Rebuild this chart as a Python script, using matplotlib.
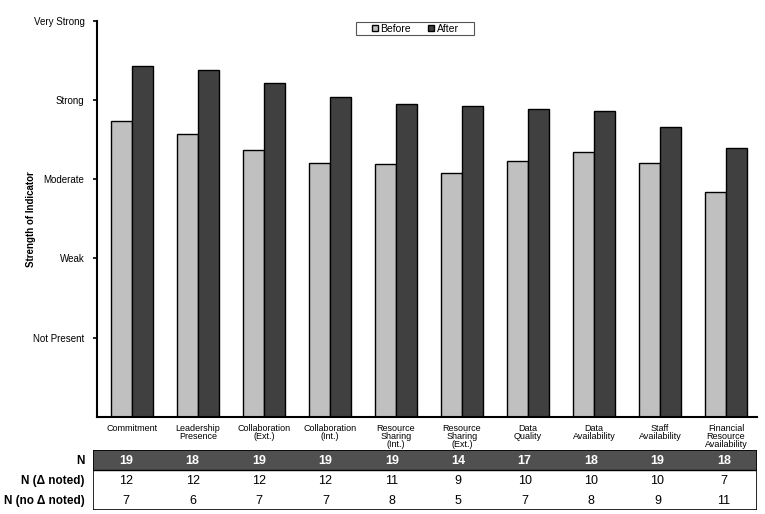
import matplotlib
matplotlib.use('Agg')
import matplotlib.pyplot as plt
from matplotlib.patches import Rectangle
import numpy as np

plt.rcParams['font.family'] = ['Liberation Sans', 'DejaVu Sans']

categories = ['Commitment', 'Leadership\nPresence', 'Collaboration\n(Ext.)',
              'Collaboration\n(Int.)', 'Resource\nSharing\n(Int.)',
              'Resource\nSharing\n(Ext.)', 'Data\nQuality', 'Data\nAvailability',
              'Staff\nAvailability', 'Financial\nResource\nAvailability']
before = [3.74, 3.57, 3.37, 3.20, 3.19, 3.08, 3.23, 3.34, 3.20, 2.84]
after = [4.43, 4.38, 4.22, 4.04, 3.95, 3.93, 3.89, 3.86, 3.66, 3.40]
level_labels = ['Not Present', 'Weak', 'Moderate', 'Strong', 'Very Strong']
n_total = [19, 18, 19, 19, 19, 14, 17, 18, 19, 18]
n_change = [12, 12, 12, 12, 11, 9, 10, 10, 10, 7]
n_no_change = [7, 6, 7, 7, 8, 5, 7, 8, 9, 11]
row_labels = ['N', 'N (Δ noted)', 'N (no Δ noted)']

W, H = 765, 514
fig = plt.figure(figsize=(W / 100, H / 100), dpi=100)
ax = fig.add_axes([97 / W, 1 - 416.7 / H, (757 - 97) / W, (416.7 - 21) / H])

x = np.arange(len(categories))
bw = 0.32
ax.bar(x - bw / 2, before, bw, color='#c0c0c0', edgecolor='black', linewidth=1, label='Before')
ax.bar(x + bw / 2, after, bw, color='#404040', edgecolor='black', linewidth=1, label='After')

ax.set_xlim(-0.53, 9.47)
ax.set_ylim(0, 5)
ax.set_yticks(range(1, 6))
ax.set_yticklabels(level_labels, fontsize=7)
ax.set_xticks(x)
ax.set_xticklabels(categories, fontsize=6.5, linespacing=0.85)
ax.tick_params(axis='x', length=0, pad=5)
ax.tick_params(axis='y', length=3, width=1.2, pad=6)
ax.spines['top'].set_visible(False)
ax.spines['right'].set_visible(False)
ax.spines['left'].set_linewidth(1.5)
ax.spines['bottom'].set_linewidth(1.5)
ax.set_ylabel('Strength of Indicator', fontsize=7, fontweight='bold')
ax.yaxis.set_label_coords(-0.092, 0.5)

# legend drawn without frame, box added by hand for the wide padding
leg = ax.legend(loc='center', bbox_to_anchor=(0.482, 0.981), ncol=2, fontsize=7.5,
                frameon=False, handlelength=0.6, handleheight=0.6,
                columnspacing=1.6, handletextpad=0.25, borderpad=0)
ax.add_patch(Rectangle((0.392, 0.9646), 0.179, 0.033, transform=ax.transAxes,
                       facecolor='none', edgecolor='#555555', linewidth=0.8,
                       clip_on=False))

# table under the chart
tx = fig.add_axes([93 / W, 1 - 510 / H, (757 - 93) / W, (510 - 449.5) / H])
tx.set_xlim(0, 10)
tx.set_ylim(3, 0)
tx.axis('off')
rows = [n_total, n_change, n_no_change]
for r, vals in enumerate(rows):
    if r == 0:
        tx.add_patch(Rectangle((0, 0), 10, 1, facecolor='#505050', edgecolor='none'))
    for c, v in enumerate(vals):
        tx.text(c + 0.5, r + 0.55, str(v), ha='center', va='center', fontsize=9,
                fontweight='bold' if r == 0 else 'normal',
                color='white' if r == 0 else 'black')
    tx.text(-0.13, r + 0.55, row_labels[r], ha='right', va='center', fontsize=8.5,
            fontweight='bold', clip_on=False)
tx.add_patch(Rectangle((0, 0), 10, 3, facecolor='none', edgecolor='black', linewidth=1.2))
tx.plot([0, 10], [1, 1], color='black', linewidth=1)

fig.savefig('out.png', dpi=100)
